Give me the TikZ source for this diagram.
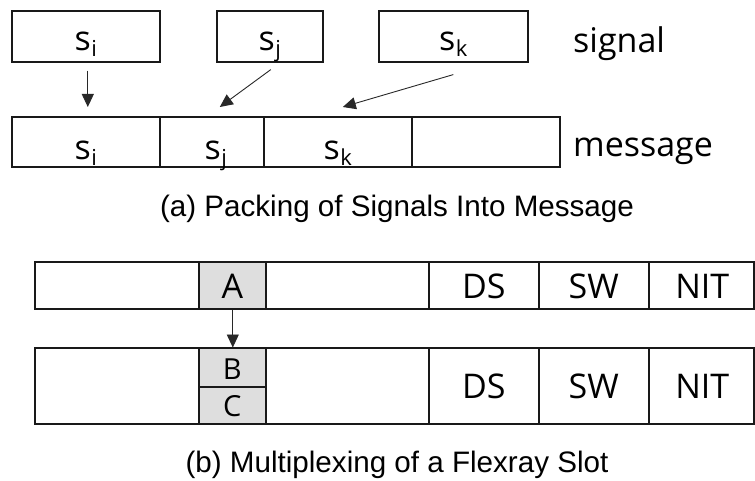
\documentclass[tikz,border=0pt]{standalone}
\usepackage{fontspec}
\setmainfont{Liberation Sans}
\newfontfamily\labfont{Open Sans}
\newfontfamily\captfont{Liberation Sans}
\usetikzlibrary{arrows.meta}
\definecolor{linec}{RGB}{25,25,25}
\definecolor{arrc}{RGB}{40,40,40}
\definecolor{cellgray}{RGB}{222,222,222}
\newcommand\sbs[1]{\kern0.5pt\raisebox{-6pt}{\fontsize{22}{22}\selectfont #1}}
\tikzset{
  box/.style={draw=linec, line width=1.6pt, inner sep=0pt, anchor=north west},
  graycell/.style={box, fill=cellgray},
  lab/.style={font=\labfont\fontsize{34}{40}\selectfont, inner sep=0pt, text=black},
  labsm/.style={font=\labfont\fontsize{29}{34}\selectfont, inner sep=0pt, text=black},
  capt/.style={font=\captfont\fontsize{29.6}{34}\selectfont, inner sep=0pt, text=black},
  arr/.style={draw=arrc, line width=0.9pt, -{Triangle[length=13pt,width=12pt]}}
}
\begin{document}
\begin{tikzpicture}[x=1pt,y=-1pt]
\useasboundingbox[fill=white] (0,0) rectangle (755,481);
% ---- (a) signals
\node[box, minimum width=148pt, minimum height=51pt] (si) at (11,10) {};
\node[box, minimum width=106pt, minimum height=51pt] (sj) at (216,10) {};
\node[box, minimum width=149pt, minimum height=51pt] (sk) at (378,10) {};
\node[lab, anchor=base] (tsi) at ([yshift=-14.5pt]si.center) {s\sbs{i}};
\node[lab, anchor=base] (tsj) at ([yshift=-14.5pt]sj.center) {s\sbs{j}};
\node[lab, anchor=base] (tsk) at ([yshift=-14.5pt]sk.center) {s\sbs{k}};
\node[lab, anchor=base west] (sig) at (573,53) {signal};
% ---- (a) message
\node[box, minimum width=148pt, minimum height=50pt] (m1) at (11,116) {};
\node[box, minimum width=104pt, minimum height=50pt] (m2) at (159,116) {};
\node[box, minimum width=148pt, minimum height=50pt] (m3) at (263,116) {};
\node[box, minimum width=148pt, minimum height=50pt] (m4) at (411,116) {};
\node[lab, anchor=base] (tmi) at ([yshift=-18pt]m1.center) {s\sbs{i}};
\node[lab, anchor=base] (tmj) at ([xshift=4pt,yshift=-18pt]m2.center) {s\sbs{j}};
\node[lab, anchor=base] (tmk) at ([yshift=-18pt]m3.center) {s\sbs{k}};
\node[lab, anchor=base west] (msg) at (573,157) {message};
% ---- (a) arrows
\draw[arr] ([xshift=2pt,yshift=-8pt]si.south) -- ([xshift=2pt,yshift=9pt]m1.north);
\draw[arr] ([xshift=1pt,yshift=-7pt]sj.south) -- ([xshift=8pt,yshift=9pt]m2.north);
\draw[arr] ([yshift=-12pt]sk.south) -- ([xshift=5pt,yshift=9pt]m3.north);
\node[capt, anchor=base] (capa) at (397,217) {(a) Packing of Signals Into Message};
% ---- (b) top row
\node[box, minimum width=164pt, minimum height=47pt] (t1) at (34,261) {};
\node[graycell, minimum width=67pt, minimum height=47pt] (tA) at (198,261) {};
\node[box, minimum width=163pt, minimum height=47pt] (t3) at (265,261) {};
\node[box, minimum width=110pt, minimum height=47pt] (tDS) at (428,261) {};
\node[box, minimum width=110pt, minimum height=47pt] (tSW) at (538,261) {};
\node[box, minimum width=105pt, minimum height=47pt] (tNIT) at (648,261) {};
\node[lab, anchor=base] (lA) at ([yshift=-13.5pt]tA.center) {A};
\node[lab, anchor=base] (lDS) at ([yshift=-13.5pt]tDS.center) {DS};
\node[lab, anchor=base] (lSW) at ([yshift=-13.5pt]tSW.center) {SW};
\node[lab, anchor=base] (lNIT) at ([xshift=1pt,yshift=-13.5pt]tNIT.center) {NIT};
% ---- (b) bottom row
\node[box, minimum width=164pt, minimum height=76pt] (b1) at (34,347) {};
\node[graycell, minimum width=67pt, minimum height=39pt] (bB) at (198,347) {};
\node[graycell, minimum width=67pt, minimum height=37pt] (bC) at (198,386) {};
\node[box, minimum width=163pt, minimum height=76pt] (b3) at (265,347) {};
\node[box, minimum width=110pt, minimum height=76pt] (bDS) at (428,347) {};
\node[box, minimum width=110pt, minimum height=76pt] (bSW) at (538,347) {};
\node[box, minimum width=105pt, minimum height=76pt] (bNIT) at (648,347) {};
\node[labsm, anchor=base] (lB) at ([yshift=-12.5pt]bB.center) {B};
\node[labsm, anchor=base] (lC) at ([yshift=-11.5pt]bC.center) {C};
\node[lab, anchor=base] (lDS2) at ([yshift=-13pt]bDS.center) {DS};
\node[lab, anchor=base] (lSW2) at ([yshift=-13pt]bSW.center) {SW};
\node[lab, anchor=base] (lNIT2) at ([xshift=1pt,yshift=-13pt]bNIT.center) {NIT};
\draw[arr, shorten >=-0.5pt] ([xshift=0.5pt]tA.south) -- ([xshift=0.5pt]bB.north);
\node[capt, anchor=base] (capb) at (397,472) {(b) Multiplexing of a Flexray Slot};
\end{tikzpicture}
\end{document}
